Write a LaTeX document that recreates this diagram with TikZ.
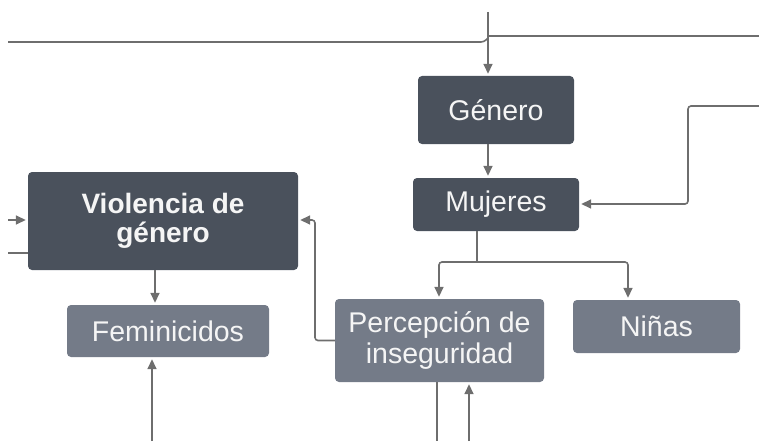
\documentclass[tikz,border=0pt]{standalone}
\usepackage{fontspec}
\setmainfont{Liberation Sans}
\usepackage{xcolor}
\usepackage{tikz}
\usetikzlibrary{calc}
\usetikzlibrary{arrows.meta}

\definecolor{darkbox}{HTML}{4A515C}
\definecolor{midbox}{HTML}{747B88}
\definecolor{wire}{HTML}{6E6E6E}

\begin{document}
\begin{tikzpicture}[x=1pt,y=-1pt]
  \tikzstyle{box}=[rounded corners=4pt, text=white!92!gray, font=\fontsize{28.5}{31}\selectfont, align=center, inner sep=0pt] % all boxes
  \tikzstyle{dk}=[box, fill=darkbox] % dark boxes
  \tikzstyle{md}=[box, fill=midbox] % lighter boxes
  \tikzstyle{w}=[wire, line width=1.6pt, rounded corners=3pt]
  \tikzstyle{a}=[w, -{Triangle[length=10pt,width=9pt]}, shorten >=2pt]
  \useasboundingbox (0,0) rectangle (759,441);

  \node[dk, minimum width=156pt, minimum height=68pt] (genero) at (496,110) {Género};
  \node[dk, minimum width=166pt, minimum height=53pt] (mujeres) at (496,204.5) {Mujeres};
  \node[dk, minimum width=270pt, minimum height=98pt, font=\fontsize{28}{29}\selectfont\bfseries] (violencia) at (163,221) {Violencia de\\género};
  \node[md, minimum width=202pt, minimum height=52pt] (feminicidos) at (168,331) {Feminicidos};
  \node[md, minimum width=209pt, minimum height=83pt] (percepcion) at (439.5,340.5) {Percepción de\\inseguridad};
  \node[md, minimum width=167pt, minimum height=53pt] (ninas) at (656.5,326.5) {Niñas};

  % free ends at the edges
  \coordinate (topin) at (488,12);
  \coordinate (leftend) at (8,42);
  \coordinate (rightend) at (759,36);
  \coordinate (feedin) at (759,106);
  \coordinate (split) at (477,262);
  \coordinate (vin) at (8,220);
  \coordinate (vout) at (8,253);
  \coordinate (femin) at (152,441);
  \coordinate (pout) at (437,441);
  \coordinate (pin) at (469,441);

  \draw[w] (leftend) -- (484,42) -- (488,38);
  \draw[w] (488,36) -- (rightend);
  \draw[a] (topin) -- (topin |- genero.north);
  \draw[a] (topin |- genero.south) -- (topin |- mujeres.north);
  \draw[a] (feedin) -- (688,106) -- (688,204) -- (mujeres.east |- 0,204);
  \draw[w] (split |- mujeres.south) -- (split);
  \draw[a] (split) -- (439,262) -- (439,0 |- percepcion.north);
  \draw[a] (split) -- (628,262) -- (628,0 |- ninas.north);
  \draw[a] (percepcion.west) -- (315,340.5) -- (315,220) -- (violencia.east |- 0,220);
  \draw[a] (vin) -- (violencia.west |- vin);
  \draw[w] (vout) -- (violencia.west |- vout);
  \draw[a] (155,0 |- violencia.south) -- (155,0 |- feminicidos.north);
  \draw[a] (femin) -- (femin |- feminicidos.south);
  \draw[w] (437,0 |- percepcion.south) -- (pout);
  \draw[a] (pin) -- (pin |- percepcion.south);
\end{tikzpicture}
\end{document}
